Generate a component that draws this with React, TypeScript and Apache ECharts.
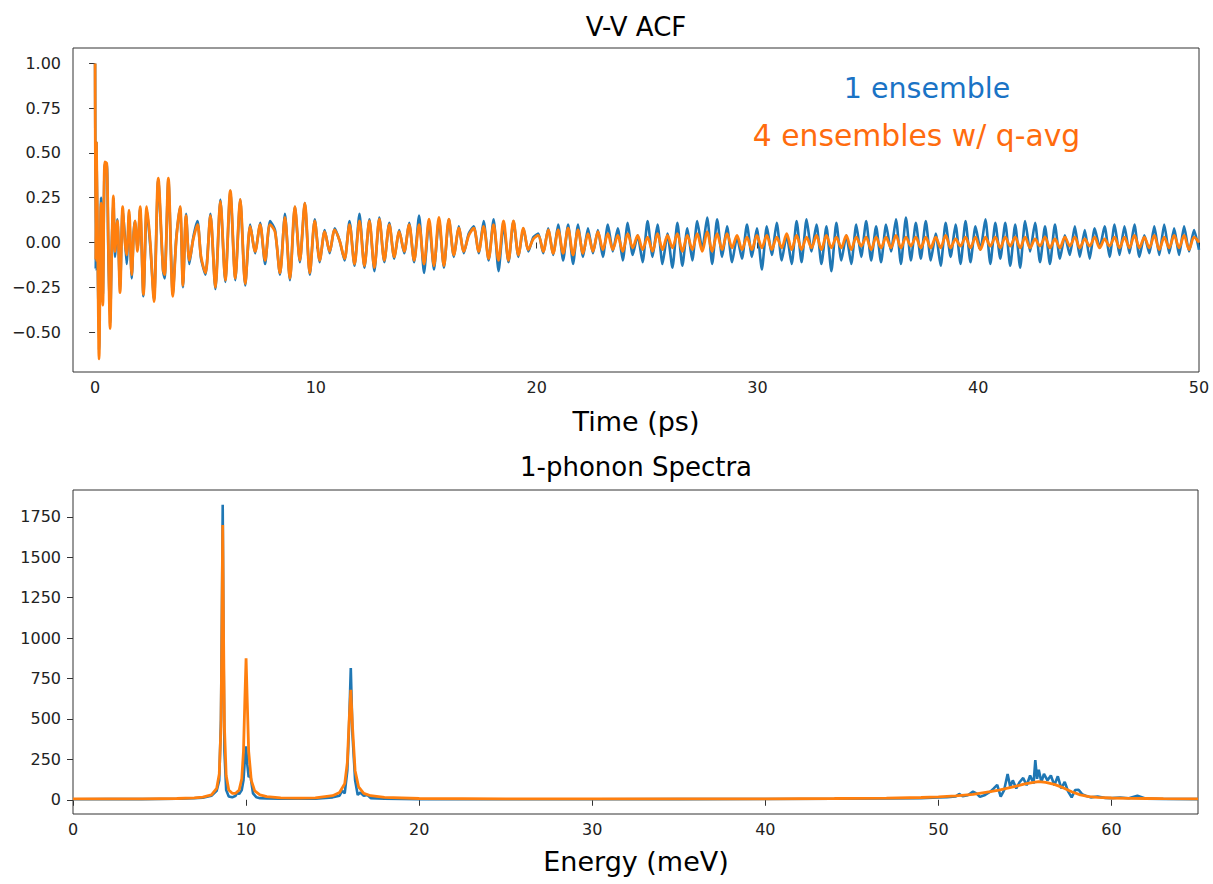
import React, { useEffect, useRef } from "react";
import * as echarts from "echarts";

// ---------- V-V ACF data ----------
// early part (explicit times, ps)
const acfEarlyT = [0.0, 0.03, 0.06, 0.12, 0.18, 0.27, 0.35, 0.44, 0.53, 0.6, 0.68, 0.76, 0.83, 0.9,
  1.01, 1.13, 1.25, 1.34, 1.43, 1.54, 1.66, 1.75, 1.81, 1.92, 2.04, 2.19, 2.34, 2.5, 2.67, 2.86,
  3.08, 3.15, 3.32, 3.52, 3.68, 3.85, 3.98, 4.12, 4.27, 4.45, 4.64, 4.8];
const acfEarlyOrange = [1.0, -0.1, 0.56, -0.05, -0.65, 0.22, -0.35, 0.45, 0.44, 0.0, -0.48, 0.0, 0.26, -0.05,
  0.12, -0.28, 0.2, 0.02, -0.07, 0.18, -0.18, 0.05, 0.12, -0.05, 0.2, -0.29, 0.2, 0.0, -0.33, 0.36,
  -0.15, -0.18, 0.36, -0.3, 0.02, 0.2, -0.24, 0.15, -0.1, 0.02, 0.1, -0.08];
const acfEarlyBlue = [1.0, -0.15, 0.56, -0.1, -0.6, 0.25, -0.3, 0.44, 0.44, -0.05, -0.45, 0.0, 0.25, -0.08,
  0.13, -0.26, 0.19, 0.05, -0.12, 0.16, -0.2, 0.06, 0.12, -0.04, 0.19, -0.3, 0.19, -0.02, -0.32, 0.35,
  -0.16, -0.2, 0.35, -0.29, 0.03, 0.2, -0.25, 0.16, -0.12, 0.03, 0.12, -0.09];
// regular part: t = 5.0 + 0.225 * i
const acfGridStart = 5.0;
const acfGridStep = 0.225;
const acfOrange = [
  -0.17, 0.15, -0.25, 0.23, -0.21, 0.29, -0.2, 0.24,
  -0.23, 0.09, -0.05, 0.1, -0.1, 0.1, 0.06, -0.17,
  0.14, -0.2, 0.2, -0.1, 0.22, -0.17, 0.12, -0.1,
  0.06, -0.05, 0.07, 0.01, -0.09, 0.1, -0.12, 0.12,
  -0.13, 0.12, -0.14, 0.13, -0.1, 0.1, -0.08, 0.06,
  -0.05, 0.1, -0.1, 0.1, -0.12, 0.13, -0.13, 0.14,
  -0.13, 0.13, -0.07, 0.08, -0.05, 0.04, 0.08, -0.05,
  0.09, -0.09, 0.1, -0.1, 0.12, -0.1, 0.12, -0.07,
  0.08, -0.04, 0.02, 0.04, -0.05, 0.07, -0.06, 0.07,
  -0.06, 0.08, -0.07, 0.07, -0.06, 0.05, -0.05, 0.06,
  -0.04, 0.05, -0.04, 0.04, -0.05, 0.05, -0.03, 0.04,
  -0.04, 0.03, -0.05, 0.05, -0.04, 0.04, -0.03, 0.05,
  -0.05, 0.04, -0.04, 0.05, -0.05, 0.06, -0.05, 0.05,
  -0.04, 0.05, -0.03, 0.04, -0.04, 0.03, -0.04, 0.04,
  -0.03, 0.04, -0.04, 0.03, -0.03, 0.05, -0.04, 0.04,
  -0.04, 0.03, -0.03, 0.04, -0.04, 0.04, -0.03, 0.03,
  -0.03, 0.04, -0.04, 0.03, -0.02, 0.03, -0.04, 0.03,
  -0.03, 0.03, -0.03, 0.04, -0.03, 0.03, -0.02, 0.03,
  -0.03, 0.03, -0.03, 0.03, -0.03, 0.04, -0.03, 0.02,
  -0.02, 0.03, -0.03, 0.03, -0.04, 0.03, -0.02, 0.03,
  -0.03, 0.03, -0.02, 0.03, -0.03, 0.03, -0.03, 0.02,
  -0.02, 0.03, -0.03, 0.02, -0.03, 0.03, -0.02, 0.03,
  -0.03, 0.02, -0.02, 0.03, -0.03, 0.02, -0.02, 0.03,
  -0.03, 0.03, -0.03, 0.04, -0.03, 0.03, -0.03, 0.04,
  -0.04, 0.03, -0.03, 0.04, -0.03, 0.04, -0.04, 0.03,
  0.0,
];
const acfBlue = [
  -0.18, 0.16, -0.26, 0.24, -0.22, 0.29, -0.21, 0.24,
  -0.24, 0.1, -0.06, 0.11, -0.12, 0.12, 0.07, -0.18,
  0.16, -0.21, 0.2, -0.11, 0.22, -0.18, 0.13, -0.11,
  0.07, -0.06, 0.08, 0.01, -0.1, 0.12, -0.13, 0.16,
  -0.14, 0.13, -0.16, 0.14, -0.11, 0.11, -0.09, 0.07,
  -0.06, 0.11, -0.11, 0.15, -0.17, 0.12, -0.15, 0.13,
  -0.14, 0.13, -0.08, 0.09, -0.06, 0.05, 0.09, -0.06,
  0.12, -0.1, 0.13, -0.16, 0.1, -0.11, 0.12, -0.08,
  0.08, -0.05, 0.03, 0.05, -0.06, 0.08, -0.07, 0.1,
  -0.1, 0.1, -0.12, 0.1, -0.08, 0.08, -0.06, 0.07,
  -0.08, 0.1, -0.05, 0.08, -0.1, 0.11, -0.07, 0.04,
  -0.11, 0.12, -0.08, 0.1, -0.12, 0.05, -0.14, 0.11,
  -0.13, 0.08, -0.1, 0.12, -0.04, 0.14, -0.12, 0.13,
  -0.08, 0.09, -0.11, 0.03, -0.09, 0.1, -0.08, 0.08,
  -0.15, 0.09, -0.07, 0.11, -0.1, 0.04, -0.12, 0.12,
  -0.11, 0.13, -0.05, 0.1, -0.12, 0.09, -0.16, 0.11,
  -0.1, 0.04, -0.12, 0.1, -0.08, 0.12, -0.1, 0.09,
  -0.11, 0.1, -0.05, 0.13, -0.12, 0.14, -0.1, 0.11,
  -0.09, 0.12, -0.1, 0.05, -0.13, 0.11, -0.08, 0.1,
  -0.12, 0.12, -0.11, 0.09, -0.04, 0.13, -0.12, 0.11,
  -0.09, 0.11, -0.13, 0.1, -0.14, 0.12, -0.05, 0.11,
  -0.11, 0.09, -0.12, 0.1, -0.09, 0.04, -0.07, 0.09,
  -0.08, 0.07, -0.09, 0.08, -0.03, 0.09, -0.08, 0.1,
  -0.07, 0.09, -0.06, 0.1, -0.08, 0.04, -0.06, 0.09,
  -0.07, 0.1, -0.06, 0.08, -0.07, 0.09, -0.05, 0.07,
  -0.04,
];
const acfYTicks = [-0.5, -0.25, 0, 0.25, 0.5, 0.75, 1.0];
const acfXTicks = [0, 10, 20, 30, 40, 50];

// ---------- 1-phonon spectra data ----------
const specOrangeE = [0, 2, 4, 6, 7, 7.5, 8.0, 8.3, 8.45, 8.55, 8.6, 8.65, 8.7, 8.75, 8.85, 9.0, 9.2, 9.4, 9.6,
  9.75, 9.85, 9.93, 10.0, 10.07, 10.15, 10.3, 10.5, 10.8, 11.2, 12, 13, 14, 15, 15.4, 15.7, 15.85, 15.95,
  16.05, 16.15, 16.3, 16.5, 16.8, 17.2, 18, 20, 25, 30, 35, 40, 44, 47, 49, 50, 51, 52, 53, 53.5, 54, 54.5,
  55, 55.5, 55.8, 56.2, 56.7, 57.2, 57.7, 58.2, 58.7, 59.2, 60, 61, 62, 63, 65];
const specOrange = [5, 5, 6, 8, 12, 16, 30, 70, 160, 450, 1000, 1700, 1000, 450, 150, 60, 40, 40, 60,
  130, 300, 620, 875, 600, 300, 120, 55, 30, 20, 12, 10, 12, 25, 45, 100, 230, 480,
  680, 450, 180, 80, 40, 25, 15, 8, 5, 5, 5, 6, 8, 10, 14, 18, 24, 34, 50, 60, 72, 85,
  98, 108, 112, 108, 95, 75, 50, 30, 20, 15, 11, 9, 8, 7, 6];
const specBlueE = [0, 2, 4, 6, 7, 7.5, 8.0, 8.3, 8.45, 8.55, 8.6, 8.65, 8.7, 8.75, 8.85, 9.0, 9.2, 9.4, 9.5,
  9.6, 9.75, 9.85, 9.93, 10.0, 10.07, 10.15, 10.25, 10.4, 10.6, 10.8, 11.2, 12, 13, 14, 15, 15.4, 15.55, 15.7,
  15.85, 15.95, 16.05, 16.15, 16.3, 16.45, 16.6, 16.8, 17.0, 17.2, 18, 20, 25, 30, 35, 40, 44, 47, 49, 50,
  50.5, 51, 51.2, 51.4, 51.7, 52, 52.2, 52.4, 52.7, 53, 53.2, 53.4, 53.6, 53.8, 54, 54.15, 54.3, 54.5, 54.7,
  54.9, 55.1, 55.3, 55.5, 55.6, 55.7, 55.8, 55.95, 56.1, 56.3, 56.5, 56.7, 56.9, 57.1, 57.3, 57.5, 57.7,
  57.9, 58.1, 58.3, 58.5, 58.8, 59.2, 59.6, 60, 60.5, 61, 61.5, 62, 63, 65];
const specBlue = [3, 4, 4, 6, 9, 13, 25, 55, 120, 500, 1100, 1825, 900, 300, 60, 20, 15, 25, 45,
  35, 60, 120, 250, 330, 220, 140, 150, 40, 15, 10, 8, 6, 6, 7, 15, 25, 55, 40,
  180, 450, 815, 400, 120, 30, 45, 25, 30, 10, 6, 4, 3, 3, 4, 5, 6, 8, 10, 14,
  16, 20, 36, 22, 28, 50, 40, 18, 30, 50, 70, 92, 20, 60, 160, 80, 120, 70, 110,
  135, 90, 150, 100, 245, 130, 185, 110, 160, 120, 150, 90, 145, 70, 110, 50, 15,
  60, 62, 35, 25, 15, 20, 12, 10, 14, 9, 25, 7, 5, 4];
const specYTicks = [0, 250, 500, 750, 1000, 1250, 1500, 1750];
const specXTicks = [0, 10, 20, 30, 40, 50, 60];

const BLUE = "#1f77b4";
const ORANGE = "#ff7f0e";
const FONT = "DejaVu Sans";

export default function App() {
  const ref = useRef<HTMLDivElement>(null);
  useEffect(() => {
    if (!ref.current) return;
    const chart = echarts.init(ref.current, undefined, { renderer: "svg" });

    const acfOrangeData: number[][] = acfEarlyT.map((t, i) => [t, acfEarlyOrange[i]]);
    acfOrange.forEach((v, i) => acfOrangeData.push([+(acfGridStart + i * acfGridStep).toFixed(3), v]));
    const acfBlueData: number[][] = acfEarlyT.map((t, i) => [t, acfEarlyBlue[i]]);
    acfBlue.forEach((v, i) => acfBlueData.push([+(acfGridStart + i * acfGridStep).toFixed(3), v]));
    const specBlueData = specBlueE.map((e, i) => [e, specBlue[i]]);
    const specOrangeData = specOrangeE.map((e, i) => [e, specOrange[i]]);

    const tickStyle = { show: true, inside: false, length: 6, lineStyle: { color: "#333", width: 1 } };
    const labelBase = { fontFamily: FONT, fontSize: 16, color: "#222" };
    const fmtMinus = (s: string) => s.replace("-", "\u2212");

    chart.setOption({
      animation: false,
      backgroundColor: "#fff",
      grid: [
        { left: 73, top: 48, width: 1126, height: 324, show: true, borderColor: "#333", borderWidth: 1, backgroundColor: "transparent" },
        { left: 73, top: 490, width: 1125, height: 324, show: true, borderColor: "#333", borderWidth: 1, backgroundColor: "transparent" },
      ],
      xAxis: [
        {
          gridIndex: 0, type: "value", min: -1, max: 50,
          axisLine: { show: false }, splitLine: { show: false },
          axisTick: { ...tickStyle, customValues: acfXTicks },
          axisLabel: { ...labelBase, margin: 7, customValues: acfXTicks, formatter: (v: number) => String(v) },
        },
        {
          gridIndex: 1, type: "value", min: 0, max: 65,
          axisLine: { show: false }, splitLine: { show: false },
          axisTick: { ...tickStyle, customValues: specXTicks },
          axisLabel: { ...labelBase, margin: 7, customValues: specXTicks, formatter: (v: number) => String(v) },
        },
      ],
      yAxis: [
        {
          gridIndex: 0, type: "value", min: -0.723, max: 1.086,
          axisLine: { show: false }, splitLine: { show: false },
          axisTick: { ...tickStyle, customValues: acfYTicks },
          axisLabel: { ...labelBase, margin: 12, customValues: acfYTicks, formatter: (v: number) => fmtMinus(v.toFixed(2)) },
        },
        {
          gridIndex: 1, type: "value", min: -88, max: 1916,
          axisLine: { show: false }, splitLine: { show: false },
          axisTick: { ...tickStyle, customValues: specYTicks },
          axisLabel: { ...labelBase, margin: 12, customValues: specYTicks, formatter: (v: number) => String(Math.round(v)) },
        },
      ],
      series: [
        { type: "line", xAxisIndex: 0, yAxisIndex: 0, data: acfBlueData, symbol: "none", smooth: 0.2, lineStyle: { color: BLUE, width: 2.6 }, z: 2 },
        { type: "line", xAxisIndex: 0, yAxisIndex: 0, data: acfOrangeData, symbol: "none", smooth: 0.3, lineStyle: { color: ORANGE, width: 2.8 }, z: 3 },
        { type: "line", xAxisIndex: 1, yAxisIndex: 1, data: specBlueData, symbol: "none", lineStyle: { color: BLUE, width: 2.6 }, z: 2 },
        { type: "line", xAxisIndex: 1, yAxisIndex: 1, data: specOrangeData, symbol: "none", lineStyle: { color: ORANGE, width: 2.8 }, z: 3 },
      ],
      graphic: [
        { type: "text", x: 636, y: 27, style: { text: "V-V ACF", fontFamily: FONT, fontSize: 26, fill: "#000", textAlign: "center", textVerticalAlign: "middle" } },
        { type: "text", x: 636, y: 421, style: { text: "Time (ps)", fontFamily: FONT, fontSize: 27, fill: "#000", textAlign: "center", textVerticalAlign: "middle" } },
        { type: "text", x: 636, y: 467, style: { text: "1-phonon Spectra", fontFamily: FONT, fontSize: 26, fill: "#000", textAlign: "center", textVerticalAlign: "middle" } },
        { type: "text", x: 636, y: 861, style: { text: "Energy (meV)", fontFamily: FONT, fontSize: 27, fill: "#000", textAlign: "center", textVerticalAlign: "middle" } },
        { type: "text", x: 927, y: 88, style: { text: "1 ensemble", fontFamily: FONT, fontSize: 28.5, fill: "#1a73c5", textAlign: "center", textVerticalAlign: "middle" } },
        { type: "text", x: 916.5, y: 135, style: { text: "4 ensembles w/ q-avg", fontFamily: FONT, fontSize: 29.8, fill: "#ff6c0e", textAlign: "center", textVerticalAlign: "middle" } },
      ],
    });
    return () => chart.dispose();
  }, []);
  return <div ref={ref} style={{ position: "fixed", left: 0, top: 0, width: 1213, height: 884 }} />;
}
